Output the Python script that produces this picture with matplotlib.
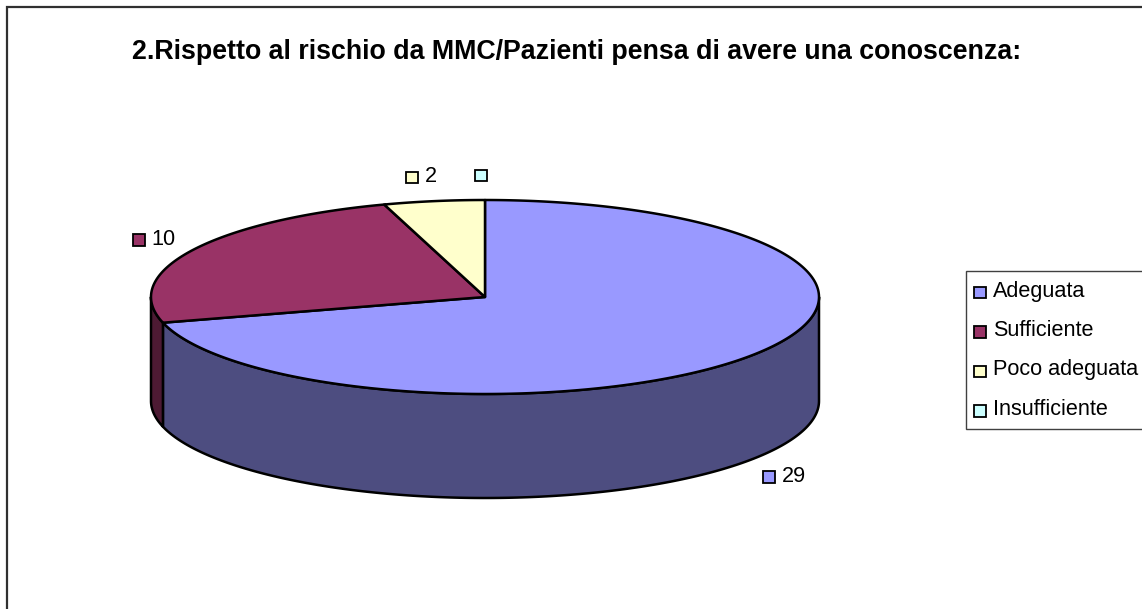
import numpy as np
import matplotlib
matplotlib.use('Agg')
import matplotlib.pyplot as plt
from matplotlib.patches import Polygon, Rectangle

plt.rcParams['font.family'] = ['Liberation Sans', 'DejaVu Sans']

title = '2.Rispetto al rischio da MMC/Pazienti pensa di avere una conoscenza:'
categories = ['Adeguata', 'Sufficiente', 'Poco adeguata', 'Insufficiente']
values = [29, 10, 2, 0]
top_colors = ['#9999FF', '#993366', '#FFFFCC', '#CCFFFF']
side_colors = ['#4D4D80', '#4D1A33', '#808066', '#668080']
label_pos = [(769, 477), (139, 240), (412, 177.5), (481, 175.5)]

W, H = 1142, 609
cx, cy, rx, ry, depth = 485, 297, 334, 97, 104


def ellipse(theta):
    # theta in degrees, clockwise from the top of the pie
    t = np.radians(theta)
    return np.column_stack([cx + rx * np.sin(t), cy - ry * np.cos(t)])


def swatch(ax, x, y, color, size=11.5):
    ax.add_patch(Rectangle((x - size / 2, y - size / 2), size, size, fc=color, ec='black', lw=1.3, zorder=5))


fig = plt.figure(figsize=(W / 100, H / 100), dpi=100)
ax = fig.add_axes([0, 0, 1, 1])
ax.set_xlim(0, W)
ax.set_ylim(H, 0)
ax.axis('off')

# chart frame, right and bottom sides are cut off by the image
ax.add_patch(Rectangle((6.8, 6.8), W, H, fc='white', ec='#303030', lw=1.6))

ax.text(577, 52, title, ha='center', va='center', fontsize=19.25, fontweight='bold', color='black')

angles = np.cumsum([0] + values) / sum(values) * 360

# side walls first, only the front half of the rim shows
for i in range(len(values)):
    a0, a1 = max(angles[i], 90), min(angles[i + 1], 270)
    if a1 <= a0:
        continue
    rim = ellipse(np.linspace(a0, a1, 200))
    wall = np.vstack([rim, (rim + [0, depth])[::-1]])
    ax.add_patch(Polygon(wall, closed=True, fc=side_colors[i], ec='black', lw=1.8, joinstyle='round'))

# top slices
for i in range(len(values)):
    if values[i] == 0:
        continue
    rim = ellipse(np.linspace(angles[i], angles[i + 1], 300))
    ax.add_patch(Polygon(np.vstack([[cx, cy], rim]), closed=True, fc=top_colors[i], ec='black', lw=1.8, joinstyle='round'))

# data labels, the zero slice only gets its key
for i in range(len(values)):
    x, y = label_pos[i]
    swatch(ax, x, y, top_colors[i])
    if values[i] > 0:
        ax.text(x + 12.5, y - 0.5, str(values[i]), ha='left', va='center', fontsize=15.6)

# legend box runs off the right edge
ax.add_patch(Rectangle((966, 270.5), W, 158.5, fc='white', ec='#404040', lw=1.0, zorder=4))
for i, name in enumerate(categories):
    y = 292.7 + i * 39.4
    swatch(ax, 980, y, top_colors[i])
    ax.text(993, y - 1.5, name, ha='left', va='center', fontsize=15.6, zorder=5)

fig.savefig('out.png', dpi=100)
